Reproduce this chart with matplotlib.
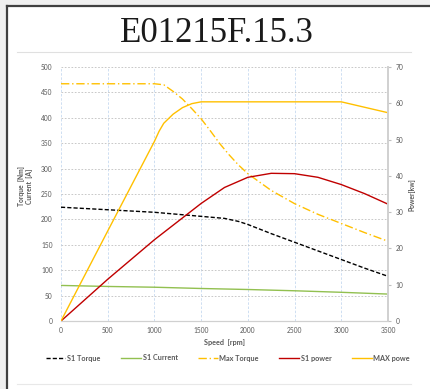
import matplotlib
matplotlib.use('Agg')

import matplotlib.pyplot as plt
from matplotlib.lines import Line2D

# Datos
speed_s1 = [0, 500, 1000, 1500, 1750, 1900, 2000, 2250, 2500, 2750, 3000, 3250, 3500]
s1_torque = [224, 219, 214, 206, 202, 196, 190, 172, 155, 138, 121, 104, 88]

speed_cur = [0, 500, 1000, 1500, 2000, 2500, 3000, 3500]
s1_current = [70, 68, 66.5, 64, 62, 59.5, 56.5, 53]

speed_max = [0, 500, 1000, 1100, 1200, 1300, 1400, 1500, 1600, 1700, 1800, 1900, 2000, 2250, 2500, 2750, 3000, 3250, 3500]
max_torque = [467, 467, 467, 465, 452, 437, 418, 398, 374, 349, 327, 307, 290, 257, 231, 210, 192, 174, 157]

speed_s1p = [0, 500, 1000, 1500, 1750, 2000, 2250, 2500, 2750, 3000, 3250, 3500]
s1_power = [0, 11.5, 22.4, 32.4, 36.8, 39.6, 40.7, 40.6, 39.6, 37.6, 35.1, 32.2]

speed_maxp = [0, 500, 1000, 1050, 1100, 1200, 1300, 1400, 1500, 2000, 2500, 3000, 3250, 3500]
max_power = [0, 24.8, 49.5, 52.3, 54.5, 57, 58.8, 59.9, 60.4, 60.4, 60.4, 60.4, 58.9, 57.4]

left_ticks = list(range(0, 501, 50))
right_ticks = list(range(0, 71, 10))
x_ticks = list(range(0, 3501, 500))

legend_labels = ['S1 Torque', 'S1 Current', 'Max Torque', 'S1 power', 'MAX powe']

GRAY_TXT = '#595959'
FONT = 'Lato'

fig = plt.figure(figsize=(4.30, 3.89), dpi=100)
fig.patch.set_facecolor('white')

# marco de la captura
fig.add_artist(plt.Rectangle((0, 0), 6 / 430, 1, transform=fig.transFigure,
                             color='#f0f0f0', lw=0))
fig.add_artist(plt.Rectangle((0, 1 - 5 / 389), 1, 5 / 389, transform=fig.transFigure,
                             color='#f0f0f0', lw=0))
fig.add_artist(Line2D([7 / 430, 7 / 430], [0, 1 - 6 / 389], transform=fig.transFigure,
                      color='#404040', lw=1.6))
fig.add_artist(Line2D([7 / 430, 1], [1 - 6 / 389, 1 - 6 / 389], transform=fig.transFigure,
                      color='#404040', lw=1.6))
fig.add_artist(Line2D([17 / 430, 411 / 430], [1 - 51.5 / 389, 1 - 51.5 / 389],
                      transform=fig.transFigure, color='#e0e0e0', lw=0.8))
fig.add_artist(Line2D([17 / 430, 411 / 430], [1 - 384 / 389, 1 - 384 / 389],
                      transform=fig.transFigure, color='#e8e8e8', lw=0.8))

fig.text(217 / 430, 1 - 33 / 389, 'E01215F.15.3', ha='center', va='center',
         fontsize=25, family='Liberation Serif', color='#1a1a1a')

ax = fig.add_axes([61 / 430, 1 - 321 / 389, 327 / 430, 254 / 389])
ax2 = ax.twinx()

ax.plot(speed_s1, s1_torque, color='black', lw=1.0, ls=(0, (3, 1.5)))
ax.plot(speed_cur, s1_current, color='#92c050', lw=1.0)
ax.plot(speed_max, max_torque, color='#ffc000', lw=1.0, ls=(0, (6, 2, 1, 2)))
ax2.plot(speed_s1p, s1_power, color='#c00000', lw=1.0)
ax2.plot(speed_maxp, max_power, color='#ffc000', lw=1.0)

ax.set_xlim(0, 3500)
ax.set_ylim(0, 500)
ax2.set_ylim(0, 70)
ax.set_xticks(x_ticks)
ax.set_yticks(left_ticks)
ax2.set_yticks(right_ticks)

ax.grid(axis='y', color='#bfbfbf', ls=(0, (2, 2)), lw=0.6)
ax.grid(axis='x', color='#c6d9f0', ls=(0, (3, 2)), lw=0.6)
ax.set_axisbelow(True)

for a in (ax, ax2):
    for s in ('top', 'left', 'right'):
        a.spines[s].set_visible(False)
    a.spines['bottom'].set_color('#d0d0d0')
    a.spines['bottom'].set_linewidth(0.8)
ax2.spines['right'].set_visible(True)
ax2.spines['right'].set_color('#d0d0d0')
ax2.spines['right'].set_linewidth(1.4)

ax.tick_params(axis='both', length=0, labelsize=4.8, labelcolor=GRAY_TXT, pad=6)
ax.tick_params(axis='x', pad=4)
ax2.tick_params(axis='y', length=2.5, color='#c0c0c0', labelsize=4.8,
                labelcolor=GRAY_TXT, pad=3)
for lab in ax.get_xticklabels() + ax.get_yticklabels() + ax2.get_yticklabels():
    lab.set_family(FONT)

ax.set_xlabel('Speed  [rpm]', fontsize=5.2, color=GRAY_TXT, family=FONT,
              fontweight='bold', labelpad=4)
ax.set_ylabel('Torque  [Nm]\nCurrent  [A]', fontsize=4.9, color=GRAY_TXT,
              family=FONT, fontweight='bold', linespacing=1.15)
ax.yaxis.set_label_coords(-0.086, 0.53)
ax2.set_ylabel('Power[kw]', fontsize=4.9, color=GRAY_TXT, family=FONT,
               fontweight='bold')
ax2.yaxis.set_label_coords(1.064, 0.496)

handles = [
    Line2D([], [], color='black', lw=1.0, ls=(0, (3, 1.5))),
    Line2D([], [], color='#92c050', lw=1.0),
    Line2D([], [], color='#ffc000', lw=1.0, ls=(0, (6, 2, 1, 2))),
    Line2D([], [], color='#c00000', lw=1.0),
    Line2D([], [], color='#ffc000', lw=1.0),
]
fig.legend(handles, legend_labels, loc='center', bbox_to_anchor=(228 / 430, 1 - 358 / 389),
           ncol=5, frameon=False, handlelength=2.7, handletextpad=0.25, columnspacing=2.85,
           prop={'family': FONT, 'size': 5.2, 'weight': 'bold'}, labelcolor=GRAY_TXT)

fig.savefig('out.png', dpi=100)
